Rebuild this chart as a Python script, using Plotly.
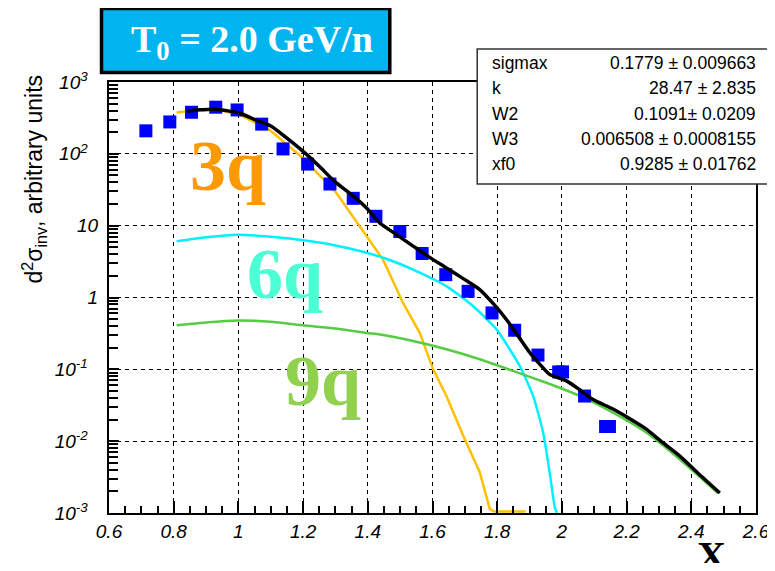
import plotly.graph_objects as go

# ---------------- data ----------------
data_x = [0.714, 0.788, 0.855, 0.930, 0.996, 1.072, 1.138, 1.214, 1.283, 1.355, 1.425,
          1.499, 1.568, 1.641, 1.710, 1.784, 1.854, 1.926, 1.990, 2.002, 2.070, 2.135, 2.147]
data_y = [209, 278, 379, 446, 408, 259, 117, 72, 38, 24, 13.5,
          8.3, 4.1, 2.08, 1.22, 0.61, 0.35, 0.158, 0.092, 0.092, 0.0425, 0.016, 0.016]

fit_x = [0.84, 0.88, 0.93, 1.005, 1.05, 1.104, 1.15, 1.2, 1.25, 1.298, 1.35, 1.396, 1.437,
         1.489, 1.54, 1.59, 1.643, 1.695, 1.746, 1.79, 1.829, 1.865, 1.901, 1.93, 1.962,
         2.014, 2.055, 2.096, 2.158, 2.21, 2.261, 2.31, 2.364, 2.42, 2.488]
fit_y = [390, 410, 418, 367, 300, 239, 165, 108, 67, 41, 27, 17.6, 10.9,
         7.5, 5.2, 3.65, 2.58, 1.83, 1.29, 0.8, 0.49, 0.29, 0.17, 0.12, 0.085,
         0.069, 0.052, 0.038, 0.028, 0.0205, 0.0147, 0.0097, 0.00625, 0.0036, 0.0019]

q3_x = [0.809, 0.87, 0.933, 1.005, 1.097, 1.2, 1.303, 1.375, 1.447, 1.509, 1.561, 1.602,
        1.643, 1.695, 1.746, 1.777, 1.79, 1.888]
q3_y = [375, 405, 418, 348, 215, 87, 28.5, 9.8, 3.37, 0.84, 0.32, 0.1,
        0.0426, 0.0119, 0.0037, 0.00114, 0.00105, 0.00105]

q6_x = [0.809, 0.9, 0.999, 1.1, 1.2, 1.3, 1.396, 1.47, 1.54, 1.643, 1.725, 1.798, 1.87,
        1.911, 1.942, 1.962, 1.978, 1.985]
q6_y = [6.05, 6.9, 7.5, 7.0, 6.25, 5.3, 4.2, 3.3, 2.45, 1.44, 0.76, 0.36, 0.111,
        0.0426, 0.0132, 0.0037, 0.0012, 0.001]

q9_x = [0.809, 0.9, 0.999, 1.1, 1.2, 1.3, 1.396, 1.437, 1.54, 1.643, 1.746, 1.849, 1.952,
        2.055, 2.158, 2.261, 2.364, 2.482]
q9_y = [0.41, 0.45, 0.48, 0.46, 0.41, 0.37, 0.32, 0.306, 0.248, 0.19, 0.138, 0.095, 0.065,
        0.0426, 0.025, 0.0132, 0.0056, 0.0019]

x_tickvals = [0.6, 0.8, 1.0, 1.2, 1.4, 1.6, 1.8, 2.0, 2.2, 2.4, 2.6]
x_ticktext = ["0.6", "0.8", "1", "1.2", "1.4", "1.6", "1.8", "2", "2.2", "2.4", "2.6"]
y_tickvals = [1e-3, 1e-2, 1e-1, 1, 10, 100, 1000]
y_ticktext = ["10<sup>-3</sup>", "10<sup>-2</sup>", "10<sup>-1</sup>", "1", "10",
              "10<sup>2</sup>", "10<sup>3</sup>"]

stat_names = ["sigmax", "k", "W2", "W3", "xf0"]
stat_values = ["0.1779 ± 0.009663", "28.47 ± 2.835", "0.1091± 0.0209",
               "0.006508 ± 0.0008155", "0.9285 ± 0.01762"]

title_text = "T<sub>0</sub> = 2.0 GeV/n"
ytitle_text = "d<sup>2</sup>σ<sub>inv</sub>, arbitrary units"

# ---------------- geometry (page pixels) ----------------
PAGE_W, PAGE_H = 775, 571
OFF = 8                       # default body margin of the html page (each side)
W, H = PAGE_W - 2 * OFF, PAGE_H - 2 * OFF
L, R, T, B = 109, 756.5, 82, 513.5
PW, PH = R - L, B - T


def px(x):
    return (x - L) / PW


def py(y):
    return (B - y) / PH


fig = go.Figure()

fig.add_trace(go.Scatter(x=q3_x, y=q3_y, mode="lines",
                         line=dict(color="#FFC000", width=2.5), hoverinfo="skip"))
fig.add_trace(go.Scatter(x=q6_x, y=q6_y, mode="lines",
                         line=dict(color="#00F0FF", width=2.5, shape="spline", smoothing=0.5),
                         hoverinfo="skip"))
fig.add_trace(go.Scatter(x=q9_x, y=q9_y, mode="lines",
                         line=dict(color="#55CC44", width=2.5, shape="spline", smoothing=0.5),
                         hoverinfo="skip"))
fig.add_trace(go.Scatter(x=data_x, y=data_y, mode="markers",
                         marker=dict(symbol="square", size=13, color="#0000FF",
                                     line=dict(width=0))))
fig.add_trace(go.Scatter(x=fit_x, y=fit_y, mode="lines",
                         line=dict(color="#000000", width=3.5, shape="spline", smoothing=0.6),
                         hoverinfo="skip"))

minor_y = [m * 10.0 ** e for e in range(-3, 3) for m in range(2, 10)]

axis_font = dict(family="Liberation Sans", size=19, color="#000000", style="italic")

fig.update_xaxes(range=[0.6, 2.6], tickmode="array", tickvals=x_tickvals,
                 ticktext=["<i>%s</i>" % t for t in x_ticktext],
                 ticks="inside", ticklen=12, tickwidth=1.5, tickcolor="#000",
                 showline=True, linecolor="#000", linewidth=2, mirror=True,
                 showgrid=True, gridcolor="#000", gridwidth=1, griddash="4px,4px",
                 zeroline=False, tickfont=axis_font, automargin=False,
                 ticklabeloverflow="allow",
                 minor=dict(dtick=0.05, ticks="inside", ticklen=7, tickcolor="#000",
                            tickwidth=1.5, showgrid=False))
fig.update_yaxes(type="log", range=[-3, 3], tickmode="array", tickvals=y_tickvals,
                 ticktext=["<i>%s</i>" % t + ("&nbsp;&nbsp;" if "sup" in t else "")
                           for t in y_ticktext],
                 ticks="inside", ticklen=10, tickwidth=1.5, tickcolor="#000",
                 ticklabelstandoff=5, automargin=False, ticklabeloverflow="allow",
                 showline=True, linecolor="#000", linewidth=2, mirror=True,
                 showgrid=True, gridcolor="#000", gridwidth=1, griddash="4px,4px",
                 zeroline=False, tickfont=axis_font,
                 minor=dict(tickmode="array", tickvals=minor_y, ticks="inside", ticklen=9,
                            tickcolor="#000", tickwidth=1.5, showgrid=False))

shapes = []
# title box
shapes.append(dict(type="rect", xref="paper", yref="paper",
                   x0=px(101.5), x1=px(390), y0=py(72.5), y1=py(8.5),
                   fillcolor="#00B4F0", line=dict(color="#000", width=3.5), layer="above"))
# stats box
shapes.append(dict(type="rect", xref="paper", yref="paper",
                   x0=px(477.5), x1=px(772), y0=py(184), y1=py(49),
                   fillcolor="#FFFFFF", line=dict(color="#333", width=1.5), layer="above"))

annotations = []
annotations.append(dict(xref="paper", yref="paper", x=px(252), y=py(42), text=title_text,
                        showarrow=False, xanchor="center", yanchor="middle",
                        font=dict(family="Liberation Serif", size=38, color="#FFFFFF",
                                  weight="bold")))

for i, (nm, val) in enumerate(zip(stat_names, stat_values)):
    yc = 63 + 25.3 * i
    annotations.append(dict(xref="paper", yref="paper", x=px(490), y=py(yc), text=nm,
                            showarrow=False, xanchor="left", yanchor="middle",
                            font=dict(family="Liberation Sans", size=17.5, color="#000")))
    annotations.append(dict(xref="paper", yref="paper", x=px(759), y=py(yc), text=val,
                            showarrow=False, xanchor="right", yanchor="middle",
                            font=dict(family="Liberation Sans", size=17.5, color="#000")))

for txt, cx, cy, col in [("3q", 228, 166, "#FF9900"), ("6q", 285, 274, "#4CFFD4"),
                         ("9q", 323, 381, "#92D050")]:
    annotations.append(dict(xref="paper", yref="paper", x=px(cx), y=py(cy), text=txt,
                            showarrow=False, xanchor="center", yanchor="middle",
                            font=dict(family="Liberation Serif", size=72, color=col,
                                      weight="bold")))

annotations.append(dict(xref="paper", yref="paper", x=px(33), y=py(73), text=ytitle_text,
                        showarrow=False, xanchor="center", yanchor="top", textangle=-90,
                        font=dict(family="Liberation Sans", size=23, color="#000")))

for cx, cy in [(712, 556), (722, -9)]:
    annotations.append(dict(xref="paper", yref="paper", x=px(cx), y=py(cy), text="X",
                            showarrow=False, xanchor="center", yanchor="middle",
                            font=dict(family="Liberation Serif", size=40, color="#000",
                                      weight="bold")))

fig.update_layout(width=W, height=H, showlegend=False,
                  margin=dict(l=L - OFF, r=(W + OFF) - R, t=T - OFF, b=(H + OFF) - B, pad=0),
                  paper_bgcolor="#FFFFFF", plot_bgcolor="#FFFFFF",
                  shapes=shapes, annotations=annotations)

fig.write_html("out.html")
